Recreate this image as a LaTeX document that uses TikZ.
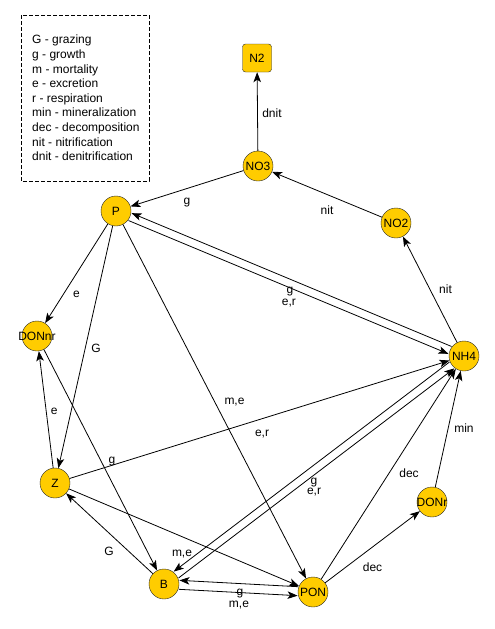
\documentclass[tikz,border=0pt]{standalone}
\usepackage{fontspec}
\setmainfont{Liberation Sans}
\usetikzlibrary{arrows.meta}

\definecolor{poolfill}{RGB}{255,204,0}
\newcommand*{\widetxt}[1]{\makebox[0pt]{#1}}

\begin{document}
\begin{tikzpicture}
[
	x=1pt, y=-1pt,
	pool/.style={circle,draw=black!85,fill=poolfill,inner sep=0pt,minimum size=30pt,font=\fontsize{12}{14}\selectfont},
	sinkbox/.style={rectangle,rounded corners=3pt,draw=black!85,fill=poolfill,inner sep=0pt,minimum width=29pt,minimum height=28pt,font=\fontsize{12}{14}\selectfont},
	flow/.style={-{Stealth[length=10pt,width=7.5pt,inset=2.5pt]},line width=0.8pt},
	lbl/.style={inner sep=0pt,font=\fontsize{12}{14}\selectfont}
]

	\useasboundingbox (0,0) rectangle (495,629);

	% legend
	\draw[line width=0.8pt,dash pattern=on 4pt off 2pt] (21,15) rectangle (149,181);
	\node[anchor=north west,align=left,inner sep=0pt,font=\fontsize{12}{14.6}\selectfont] at (32,35) (legend)
		{G - grazing\\ g - growth\\ m - mortality\\ e - excretion\\ r - respiration\\
		 min - mineralization\\ dec - decomposition\\ nit - nitrification\\ dnit - denitrification};

	% pools
	\node[sinkbox] at (257,58) (N2) {N2};
	\node[pool] at (258,166) (NO3) {NO3};
	\node[pool] at (116,211) (P) {P};
	\node[pool] at (396,223) (NO2) {NO2};
	\node[pool] at (37,336) (DONnr) {\widetxt{DONnr}};
	\node[pool] at (464,356) (NH4) {NH4};
	\node[pool] at (55,483) (Z) {Z};
	\node[pool] at (432,502) (DONr) {\widetxt{DONr}};
	\node[pool] at (164,584) (B) {B};
	\node[pool] at (313,592) (PON) {PON};

	% nitrogen transformations
	\draw[flow] (NO3) -- (N2) node[lbl,midway,xshift=14.5pt,yshift=-1.5pt] {dnit};
	\draw[flow] (NO3) -- (P) node[lbl,midway,yshift=-14pt] {g};
	\draw[flow] (NO2) -- (NO3) node[lbl,midway,yshift=-16pt] {nit};
	\draw[flow] (NH4) -- (NO2) node[lbl,midway,xshift=15.5pt] {nit};

	% phytoplankton
	\draw[flow,transform canvas={xshift=1.54pt,yshift=3.69pt}] (NH4) -- (P) node[lbl,midway,xshift=-1.5pt,yshift=-12pt] {g};
	\draw[flow,transform canvas={xshift=-1.54pt,yshift=-3.69pt}] (P) -- (NH4) node[lbl,midway,xshift=0.5pt,yshift=-16pt] {e,r};
	\draw[flow] (P) -- (DONnr) node[lbl,midway,yshift=-20.5pt] {e};
	\draw[flow] (P) -- (Z) node[lbl,midway,xshift=10.5pt,yshift=-1pt] {G};
	\draw[flow] (P) -- (PON) node[lbl,midway,xshift=20pt,yshift=-1pt] {m,e};

	% zooplankton
	\draw[flow] (Z) -- (DONnr) node[lbl,midway,xshift=8.3pt,yshift=-2pt] {e};
	\draw[flow] (Z) -- (NH4) node[lbl,midway,xshift=2.5pt,yshift=-14.5pt] {e,r};
	\draw[flow] (Z) -- (PON) node[lbl,midway,xshift=-2pt,yshift=-16.5pt] {m,e};

	% bacteria
	\draw[flow] (DONnr) -- (B) node[lbl,midway,xshift=11.5pt,yshift=-2pt] {g};
	\draw[flow] (B) -- (Z) node[lbl,midway,xshift=-0.5pt,yshift=-17.5pt] {G};
	\draw[flow,transform canvas={xshift=-2.42pt,yshift=3.18pt}] (NH4) -- (B) node[lbl,midway,xshift=2.4pt,yshift=-15.2pt] {g};
	\draw[flow,transform canvas={xshift=2.42pt,yshift=-3.18pt}] (B) -- (NH4) node[lbl,midway,xshift=-2.4pt,yshift=-18.8pt] {e,r};
	\draw[flow,transform canvas={xshift=0.24pt,yshift=4.49pt}] (PON) -- (B) node[lbl,midway,xshift=1.3pt,yshift=-10pt] {g};
	\draw[flow,transform canvas={xshift=-0.24pt,yshift=-4.49pt}] (B) -- (PON) node[lbl,midway,xshift=0.7pt,yshift=-12.5pt] {m,e};

	% detritus
	\draw[flow] (PON) -- (DONr) node[lbl,midway,yshift=-20pt] {dec};
	\draw[flow] (PON) -- (NH4) node[lbl,midway,xshift=20.5pt,yshift=1pt] {dec};
	\draw[flow] (DONr) -- (NH4) node[lbl,midway,xshift=16pt,yshift=1pt] {min};

\end{tikzpicture}
\end{document}
